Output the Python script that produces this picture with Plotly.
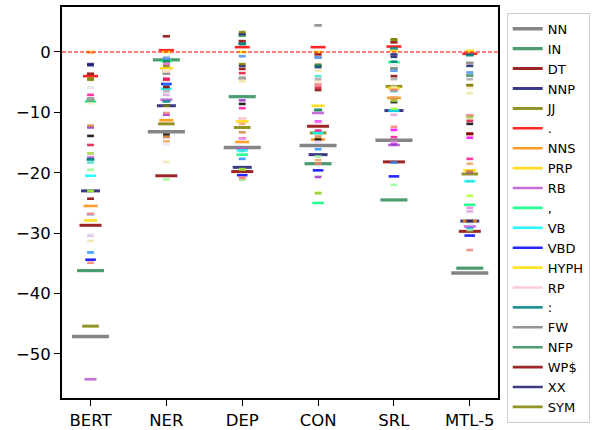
import plotly.graph_objects as go

categories = ["BERT", "NER", "DEP", "CON", "SRL", "MTL-5"]

tags = ["NN", "IN", "DT", "NNP", "JJ", ".", "NNS", "PRP", "RB", ",",
        "VB", "VBD", "HYPH", "RP", ":", "FW", "NFP", "WP$", "XX", "SYM",
        "VBZ", "VBP", "VBN", "VBG", "CC", "CD", "TO", "MD", "PRP$", "WDT",
        "WP", "JJS", "JJR", "RBR", "POS", "EX", "PDT", "UH", "WRB", "NNPS",
        "LS", "GW", "ADD", "AFX", "-LRB-", "-RRB-", "$"]

# value of each tag (same order as tags) per model
bert = [-47.1, -36.2, -28.7, -23.0, -45.4, -4.0, -25.5, -27.9, -54.2, -8.2,
        -20.5, -34.4, 0.0, -26.9, -17.8, -7.7, -8.0, -3.6, -2.0, -4.4,
        -7.1, -23.0, -33.2, -34.9, -13.9, -30.4, -12.5, -17.5, -19.5, -15.4,
        -26.9, -5.9, -5.9, -8.5, -12.2, -31.3, -0.1, -18.3, -30.2, -17.4,
        -26.8, -16.8, -7.9, -24.3, -2.2, -4.6, -17.7]
ner = [-13.2, -1.3, -20.5, -8.9, -11.9, 0.3, -11.3, -2.7, -7.9, -1.5,
       -6.1, -5.3, 0.0, -3.1, -8.2, -3.6, -1.5, 2.6, -1.0, -2.3,
       -4.4, -1.5, -5.4, -14.1, -13.7, -7.1, -10.4, -1.9, -21.1, -4.6,
       -1.0, -1.1, -3.1, -3.2, -14.0, -18.2, -14.8, -6.0, -15.3, -1.9,
       -10.1, -1.6, -6.5, -5.8, -8.9, -8.9, -1.5]
dep = [-15.8, -7.4, -19.8, -19.1, -12.5, 0.8, -14.9, -11.5, -16.0, -17.0,
       -16.3, -20.4, 0.0, -11.0, 1.4, -4.4, 2.7, 1.8, 3.0, 3.3,
       -9.3, -19.4, -17.7, -20.8, -8.6, -14.3, -8.0, -14.3, -21.2, -3.5,
       -0.7, -0.7, -4.8, -4.9, -13.3, -4.8, -11.9, -16.4, -14.4, -14.3,
       -20.9, -19.5, -4.2, -2.8, -2.3, -2.0, 1.3]
con = [-15.5, -18.5, -12.3, -17.0, -13.4, 0.8, -14.5, -8.9, -10.1, -25.0,
       -13.4, -19.6, 0.0, -5.4, -9.6, 4.4, -9.6, -0.4, -0.9, -2.3,
       -13.0, -23.3, -16.1, -18.5, -14.5, -14.9, -20.7, -11.5, -17.3, -5.9,
       -0.9, -0.9, -3.1, -4.9, -14.0, -3.1, -17.9, -4.0, -14.9, -11.6,
       -5.4, -23.4, -4.5, -6.3, -2.5, -2.1, -2.3]
srl = [-14.6, -24.5, -18.2, -9.7, -5.7, 0.9, -7.6, -6.0, -15.4, -1.7,
       -9.7, -20.6, 0.2, -6.4, 0.6, -2.7, -3.0, 1.6, -0.4, 2.1,
       -14.1, -9.4, -18.3, -12.4, -8.3, -10.4, -15.3, -12.9, -22.0, -6.4,
       -3.1, -3.1, -2.0, -2.2, -7.8, -5.8, -7.5, -6.5, -2.1, -14.9,
       -6.3, -8.1, -4.5, -4.0, -0.8, 2.0, -1.6]
mtl5 = [-36.6, -35.8, -29.7, -28.0, -20.2, -0.3, -28.0, -19.6, -28.9, -25.3,
        -21.4, -30.4, 0.2, -10.5, -0.5, -1.8, -3.9, -13.5, -2.3, -5.5,
        -17.7, -23.8, -29.2, -32.8, -11.9, -26.4, -19.9, -14.2, -29.5, -11.4,
        -3.4, -3.4, -6.9, -5.9, -19.8, -6.8, -18.5, -21.4, -28.5, -25.8,
        -10.5, -10.8, -4.5, -13.6, -28.0, -5.5, -0.5]

# styles
colors = ["#707070", "seagreen", "darkred", "midnightblue", "olive", "red", "darkorange",
          "gold", "mediumorchid", "springgreen", "cyan", "blue", "#ffe000", "pink", "teal",
          "gray", "seagreen", "darkred", "midnightblue", "olive",
          "deeppink", "greenyellow", "dodgerblue", "salmon", "black", "plum", "darkorchid",
          "magenta", "palegreen", "crimson", "lightskyblue", "cornflowerblue", "lightyellow",
          "bisque", "peru", "palegoldenrod", "sandybrown", "turquoise", "lavender", "violet",
          "lightcoral", "yellowgreen", "darkgray", "darkred", "midnightblue", "olive", "teal"]
half_px = [18.5, 13.5, 11, 9.5, 8.3, 7.5, 7, 6.5, 6, 5.7, 5.5, 5.3, 4.5, 4.3, 4.0,
           3.8, 3.7, 3.6, 3.5, 3.4] + [3.4] * 27
thick = [3.5, 3.2, 3.0, 3.0, 3.0] + [2.6] * 42
PX_PER_UNIT = 75.8

fig = go.Figure()
cols = [bert, ner, dep, con, srl, mtl5]
for t, tag in enumerate(tags):
    hw = half_px[t] / PX_PER_UNIT
    xs, ys = [], []
    for i, col in enumerate(cols):
        xs += [i - hw, i + hw, None]
        ys += [col[t], col[t], None]
    fig.add_trace(go.Scatter(
        x=xs, y=ys, mode="lines", name=tag,
        line=dict(color=colors[t], width=thick[t]),
        opacity=0.85, showlegend=t < 20, hoverinfo="skip"))

fig.add_shape(type="line", xref="paper", x0=0, x1=1, yref="y", y0=0, y1=0,
              line=dict(color="#ff0000", width=1.2, dash="4px,2px"))

axis_common = dict(showline=True, mirror=True, linecolor="black", linewidth=1.8,
                   ticks="outside", ticklen=6, tickwidth=1.3, tickcolor="black",
                   showgrid=False, zeroline=False, automargin=False,
                   tickfont=dict(size=16.5))
fig.update_xaxes(range=[-0.376, 5.372], tickvals=list(range(len(categories))),
                 ticktext=categories, **axis_common)
fig.update_yaxes(range=[-57.3, 7.45], tickvals=[0, -10, -20, -30, -40, -50], **axis_common)

fig.update_layout(
    width=597, height=430,
    margin=dict(l=62, r=99, t=7, b=32, autoexpand=False),
    plot_bgcolor="white", paper_bgcolor="white",
    font=dict(family="DejaVu Sans", size=15, color="black"),
    legend=dict(x=1.02, xanchor="left", y=0.985, yanchor="top", maxheight=425,
                bordercolor="#cccccc", borderwidth=1, bgcolor="white",
                font=dict(size=13), itemwidth=30, tracegroupgap=0),
)

fig.write_html("out.html", post_script="document.body.style.margin='0';",
               config={"displayModeBar": False})
